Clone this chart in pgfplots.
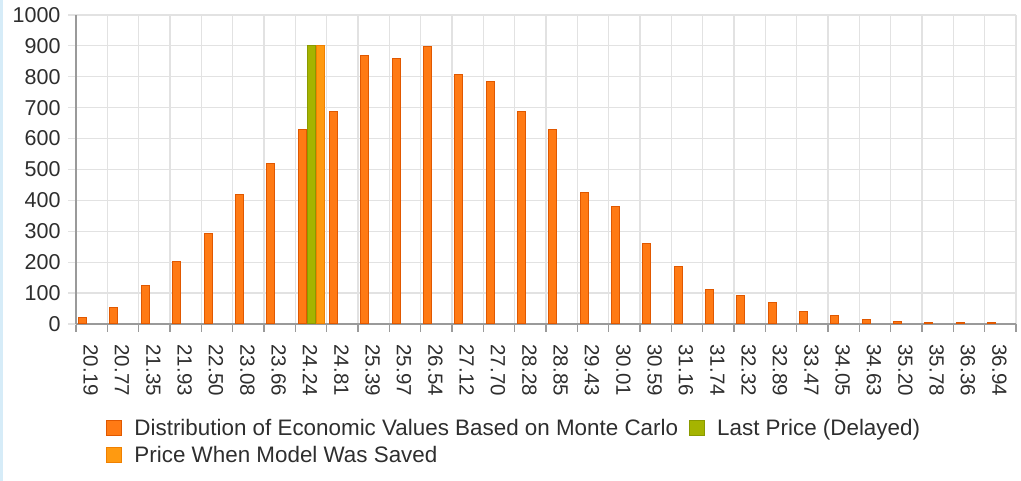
\documentclass[border=0pt]{standalone}
\usepackage{fontspec}
\setmainfont{Liberation Sans}
\usepackage{pgfplots}
\pgfplotsset{compat=1.18}
\definecolor{distfill}{HTML}{FF7A14}
\definecolor{distdraw}{HTML}{E05800}
\definecolor{lastfill}{HTML}{A5B400}
\definecolor{lastdraw}{HTML}{8A9A00}
\definecolor{savedfill}{HTML}{FF9A10}
\definecolor{saveddraw}{HTML}{F08000}
\definecolor{gridgray}{HTML}{E2E2E2}
\definecolor{axisgray}{HTML}{9A9A9A}
\definecolor{txt}{HTML}{2E2E2E}
\definecolor{sideblue}{HTML}{D6ECF8}
\begin{document}
\begin{tikzpicture}[x=1pt,y=1pt]
\fill[sideblue] (0,0) rectangle (3,481);
\begin{axis}[
  at={(76pt,157pt)}, anchor=south west,
  scale only axis, width=940pt, height=309pt,
  xmin=-0.5, xmax=29.5, ymin=0, ymax=1000,
  axis x line*=bottom, axis y line*=left,
  axis line style={draw=axisgray, line width=1.4pt},
  ybar=1pt, bar width=8pt,
  xtick={-0.5,0.5,...,29.5},
  x tick label as interval,
  xticklabels={20.19,20.77,21.35,21.93,22.50,23.08,23.66,24.24,24.81,25.39,25.97,26.54,27.12,27.70,28.28,28.85,29.43,30.01,30.59,31.16,31.74,32.32,32.89,33.47,34.05,34.63,35.20,35.78,36.36,36.94},
  ytick={0,100,...,1000},
  /pgf/number format/assume math mode=true,
  /pgf/number format/1000 sep={},
  grid=major,
  major grid style={draw=gridgray, line width=1.2pt},
  tick align=outside, major tick length=8pt,
  xtick style={draw=axisgray, line width=1.2pt},
  ytick style={draw=gridgray, line width=1.2pt},
  xticklabel style={rotate=-90, anchor=west, font=\fontsize{20.5}{24}\selectfont, text=txt, xshift=9pt, yshift=-1pt},
  yticklabel style={font=\fontsize{21.5}{24}\selectfont, text=txt, xshift=-4pt},
  legend style={at={(0.029,-0.294)}, anchor=north west, draw=none, fill=none,
    font=\fontsize{22.4}{26}\selectfont, text=txt, legend columns=2,
    /tikz/every even column/.append style={column sep=9pt},
    /tikz/every odd column/.append style={column sep=10pt},
    row sep=5pt},
  legend cell align=left,
  legend image code/.code={\fill[#1] (0pt,-7.5pt) rectangle (15pt,7.5pt);},
]
\addplot[fill=distfill, draw=distdraw, line width=1pt] coordinates {
(0,22) (1,54) (2,124) (3,201) (4,292) (5,419) (6,518) (7,628) (8,687) (9,869)
(10,859) (11,899) (12,807) (13,784) (14,687) (15,631) (16,425) (17,380) (18,259) (19,186)
(20,113) (21,93) (22,68) (23,42) (24,26) (25,13) (26,7) (27,5) (28,4) (29,5)};
\addlegendentry{Distribution of Economic Values Based on Monte Carlo}
\addplot[fill=lastfill, draw=lastdraw, line width=1pt] coordinates {(7,900)};
\addlegendentry{Last Price (Delayed)}
\addplot[fill=savedfill, draw=saveddraw, line width=1pt] coordinates {(7,900)};
\addlegendentry{Price When Model Was Saved}
\end{axis}
\pgfresetboundingbox
\path (0,0) rectangle (1021,481);
\end{tikzpicture}
\end{document}
